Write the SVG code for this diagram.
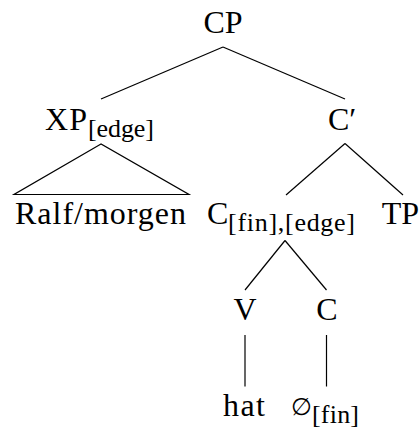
<svg xmlns="http://www.w3.org/2000/svg" width="420" height="430" viewBox="0 0 420 430">
<style>
  text { font-family: "Liberation Serif", "DejaVu Serif", serif; fill: #000; }
  .m { font-size: 32px; }
  .s { font-size: 26px; }
  .n { font-size: 24px; }
  .e { stroke: #000; stroke-width: 1.2; fill: none; }
</style>
<rect width="420" height="430" fill="#fff"/>
<g id="connectors">
  <line class="e" x1="223" y1="47" x2="101" y2="99"/>
  <line class="e" x1="223" y1="47" x2="345" y2="99"/>
  <polygon class="e" points="101,144 14,194.5 189,194.5"/>
  <line class="e" x1="345" y1="143.5" x2="286" y2="195"/>
  <line class="e" x1="345" y1="143.5" x2="403" y2="195"/>
  <line class="e" x1="285" y1="240.5" x2="245" y2="290"/>
  <line class="e" x1="285" y1="240.5" x2="326.5" y2="290"/>
  <line class="e" x1="245" y1="335" x2="245" y2="386.5"/>
  <line class="e" x1="326.5" y1="335" x2="326.5" y2="386.5"/>
</g>
<g id="CP"><text class="m" x="223" y="33" text-anchor="middle">CP</text></g>
<g id="XP">
  <text class="m" x="45" y="130" textLength="42">XP</text>
  <text class="s" x="88" y="137" textLength="66">[edge]</text>
</g>
<g id="Cbar"><text class="m" x="328" y="130">C′</text></g>
<g id="Ralf"><text class="m" x="15" y="224" textLength="171">Ralf/morgen</text></g>
<g id="Cfin">
  <text class="m" x="207" y="224">C</text>
  <text class="s" x="228" y="231" textLength="127">[fin],[edge]</text>
</g>
<g id="TP"><text class="m" x="419" y="224" text-anchor="end">TP</text></g>
<g id="V"><text class="m" x="245" y="320" text-anchor="middle">V</text></g>
<g id="C"><text class="m" x="327" y="320" text-anchor="middle">C</text></g>
<g id="hat"><text class="m" x="244" y="416" text-anchor="middle" textLength="42">hat</text></g>
<g id="null">
  <text class="n" x="301" y="415" text-anchor="middle">∅</text>
  <text class="s" x="312" y="423" textLength="47">[fin]</text>
</g>
</svg>
